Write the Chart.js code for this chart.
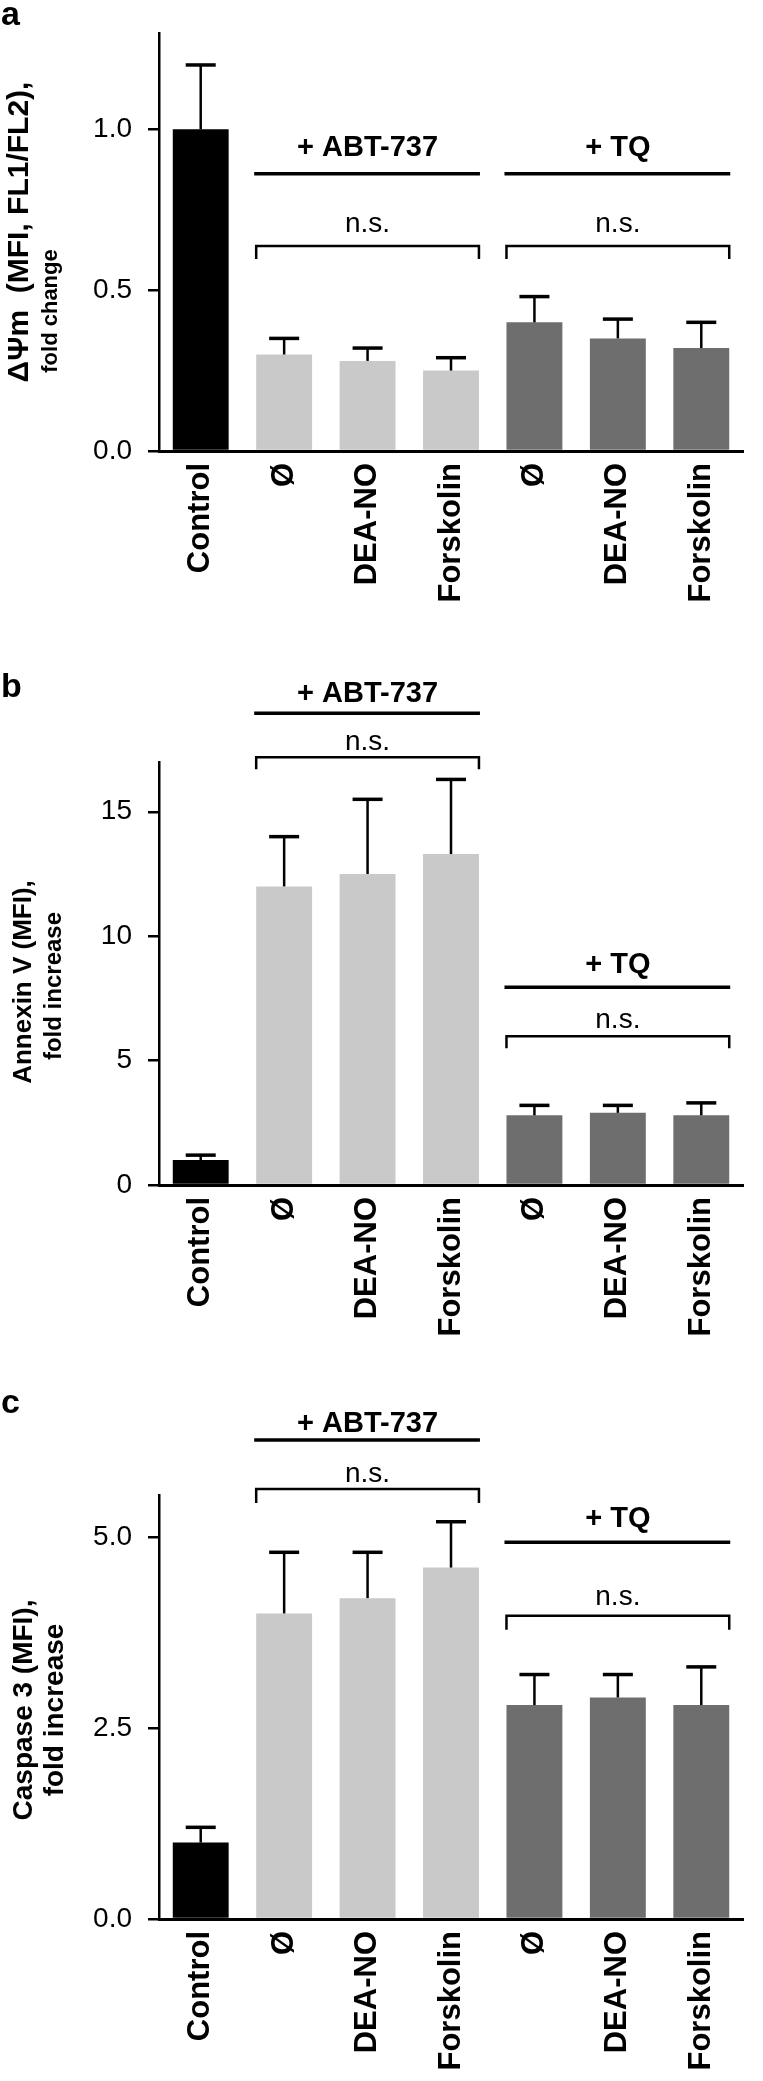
<!DOCTYPE html>
<html><head><meta charset="utf-8">
<script src="https://cdn.jsdelivr.net/npm/chart.js@4.4.0/dist/chart.umd.min.js"></script>
<style>
html,body{margin:0;padding:0;background:#fff;}
body{width:763px;height:2081px;position:relative;overflow:hidden;}
.p{position:absolute;left:0;width:763px;}
</style></head><body>
<div class="p" style="top:0px;height:640px"><canvas id="ca" width="763" height="640"></canvas></div>
<div class="p" style="top:640px;height:720px"><canvas id="cb" width="763" height="720"></canvas></div>
<div class="p" style="top:1360px;height:721px"><canvas id="cc" width="763" height="721"></canvas></div>
<script>
// ---- data ----
const categories = ['Control','Ø','DEA-NO','Forskolin','Ø','DEA-NO','Forskolin'];
const barColors = ['#000000','#c9c9c9','#c9c9c9','#c9c9c9','#6e6e6e','#6e6e6e','#6e6e6e'];
const groupNames = ['+ ABT-737','+ TQ'];
const groupRanges = [[1,3],[4,6]];
const sigLabel = 'n.s.';

// panel a: mitochondrial membrane potential
const meanA = [1.00,0.30,0.28,0.25,0.40,0.35,0.32];
const errA  = [0.20,0.05,0.04,0.04,0.08,0.06,0.08];
const tickValsA = [0,0.5,1.0];
const tickLabelsA = ['0.0','0.5','1.0'];
const titleA = ['ΔΨm  (MFI, FL1/FL2),','fold change'];

// panel b: Annexin V
const meanB = [1.0,12.0,12.5,13.3,2.8,2.9,2.8];
const errB  = [0.2,2.0,3.0,3.0,0.4,0.3,0.5];
const tickValsB = [0,5,10,15];
const tickLabelsB = ['0','5','10','15'];
const titleB = ['Annexin V (MFI),','fold increase'];

// panel c: Caspase 3
const meanC = [1.0,4.0,4.2,4.6,2.8,2.9,2.8];
const errC  = [0.2,0.8,0.6,0.6,0.4,0.3,0.5];
const tickValsC = [0,2.5,5.0];
const tickLabelsC = ['0.0','2.5','5.0'];
const titleC = ['Caspase 3 (MFI),','fold increase'];

// ---- drawing ----
const FAM = '"Liberation Sans", Arial, Helvetica, sans-serif';
Chart.defaults.color = '#000';

function makePanel(id, cfg){
  const overlay = {
    id:'overlay_'+id,
    afterDatasetsDraw(chart){
      const ctx = chart.ctx, y = chart.scales.y;
      const meta = chart.getDatasetMeta(0);
      ctx.save();
      ctx.strokeStyle = '#000'; ctx.fillStyle = '#000'; ctx.lineCap = 'butt';
      // error bars (upper)
      cfg.mean.forEach((m,i)=>{
        const bx = meta.data[i].x;
        const yt = y.getPixelForValue(m), ye = y.getPixelForValue(m + cfg.err[i]);
        ctx.lineWidth = 2.5; ctx.beginPath(); ctx.moveTo(bx, yt); ctx.lineTo(bx, ye); ctx.stroke();
        ctx.lineWidth = 3.5; ctx.beginPath(); ctx.moveTo(bx-15, ye); ctx.lineTo(bx+15, ye); ctx.stroke();
      });
      // group annotations
      cfg.levels.forEach((lv,g)=>{
        const r = groupRanges[g];
        const e0 = meta.data[r[0]], e1 = meta.data[r[1]];
        const xl = e0.x - e0.width/2, xr = e1.x + e1.width/2, xc = (xl+xr)/2;
        ctx.textAlign = 'center'; ctx.textBaseline = 'alphabetic';
        ctx.font = 'bold 29px ' + FAM;
        ctx.fillText(groupNames[g], xc, y.getPixelForValue(lv[0]));
        const yl = y.getPixelForValue(lv[1]);
        ctx.lineWidth = 3.5; ctx.beginPath(); ctx.moveTo(xl-2, yl); ctx.lineTo(xr+1, yl); ctx.stroke();
        ctx.font = '28px ' + FAM;
        ctx.fillText(sigLabel, xc, y.getPixelForValue(lv[2]));
        const yb = y.getPixelForValue(lv[3]);
        ctx.lineWidth = 2.5; ctx.beginPath();
        ctx.moveTo(xl, yb + cfg.bracketTick); ctx.lineTo(xl, yb); ctx.lineTo(xr, yb); ctx.lineTo(xr, yb + cfg.bracketTick);
        ctx.stroke();
      });
      ctx.restore();
    },
    afterDraw(chart){
      const ctx = chart.ctx;
      ctx.save(); ctx.fillStyle = '#000';
      // panel letter
      ctx.font = 'bold 34px ' + FAM; ctx.textAlign = 'left'; ctx.textBaseline = 'alphabetic';
      ctx.fillText(cfg.letter, 1, cfg.letterY);
      // y axis title (two lines)
      cfg.titleLines.forEach((t,k)=>{
        const p = cfg.titlePos[k];
        ctx.save();
        ctx.translate(p[0], p[1]); ctx.rotate(-Math.PI/2);
        ctx.font = 'bold ' + p[2] + 'px ' + FAM;
        ctx.textAlign = 'center'; ctx.textBaseline = 'middle';
        ctx.fillText(t, 0, 0);
        ctx.restore();
      });
      ctx.restore();
    }
  };
  return new Chart(document.getElementById(id), {
    type:'bar',
    data:{ labels: categories, datasets:[{ data: cfg.mean, backgroundColor: barColors, borderWidth:0,
      categoryPercentage:1.0, barPercentage:0.67 }]},
    options:{
      responsive:false, animation:false, devicePixelRatio:1,
      layout:{ padding:{ top: cfg.areaTop, right:20, left:0, bottom:0 } },
      plugins:{ legend:{display:false}, tooltip:{enabled:false}, title:{display:false} },
      scales:{
        x:{
          offset:true,
          afterFit: s => { s.height = cfg.xH; },
          ticks:{ autoSkip:false, minRotation:90, maxRotation:90, padding:12,
                  font:{family:FAM, size:31, weight:'bold'}, color:'#000' },
          grid:{ display:false, drawTicks:false },
          border:{ display:true, color:'#000', width:3 }
        },
        y:{
          min:0, max:cfg.yMax,
          afterFit: s => { s.width = 159; },
          afterBuildTicks: s => { s.ticks = cfg.tickVals.map(v => ({value:v})); },
          ticks:{ callback:(v,i) => cfg.tickLabels[i], font:{family:FAM, size:28}, color:'#000', padding:16 },
          grid:{ display:true, drawOnChartArea:false, drawTicks:true, tickLength:11, color:'#000', lineWidth:2.5 },
          border:{ display:true, color:'#000', width:2.5 }
        }
      }
    },
    plugins:[overlay]
  });
}

makePanel('ca', {
  mean:meanA, err:errA, tickVals:tickValsA, tickLabels:tickLabelsA, yMax:1.3,
  areaTop:28, xH:189, letter:'a', letterY:25,
  titleLines:titleA, titlePos:[[20,232,30],[51,311,22]],
  levels:[[0.917,0.862,0.680,0.637],[0.917,0.862,0.680,0.637]], bracketTick:13
});
makePanel('cb', {
  mean:meanB, err:errB, tickVals:tickValsB, tickLabels:tickLabelsB, yMax:17,
  areaTop:122, xH:175, letter:'b', letterY:57,
  titleLines:titleB, titlePos:[[24,342,26],[54,346,24]],
  levels:[[19.4,18.96,17.47,17.19],[8.51,7.95,6.31,5.98]], bracketTick:12
});
makePanel('cc', {
  mean:meanC, err:errC, tickVals:tickValsC, tickLabels:tickLabelsC, yMax:5.55,
  areaTop:135, xH:162, letter:'c', letterY:53,
  titleLines:titleC, titlePos:[[24,350,28],[55,350,28]],
  levels:[[6.37,6.27,5.72,5.63],[5.13,4.93,4.11,3.97]], bracketTick:14
});
</script>
</body></html>
